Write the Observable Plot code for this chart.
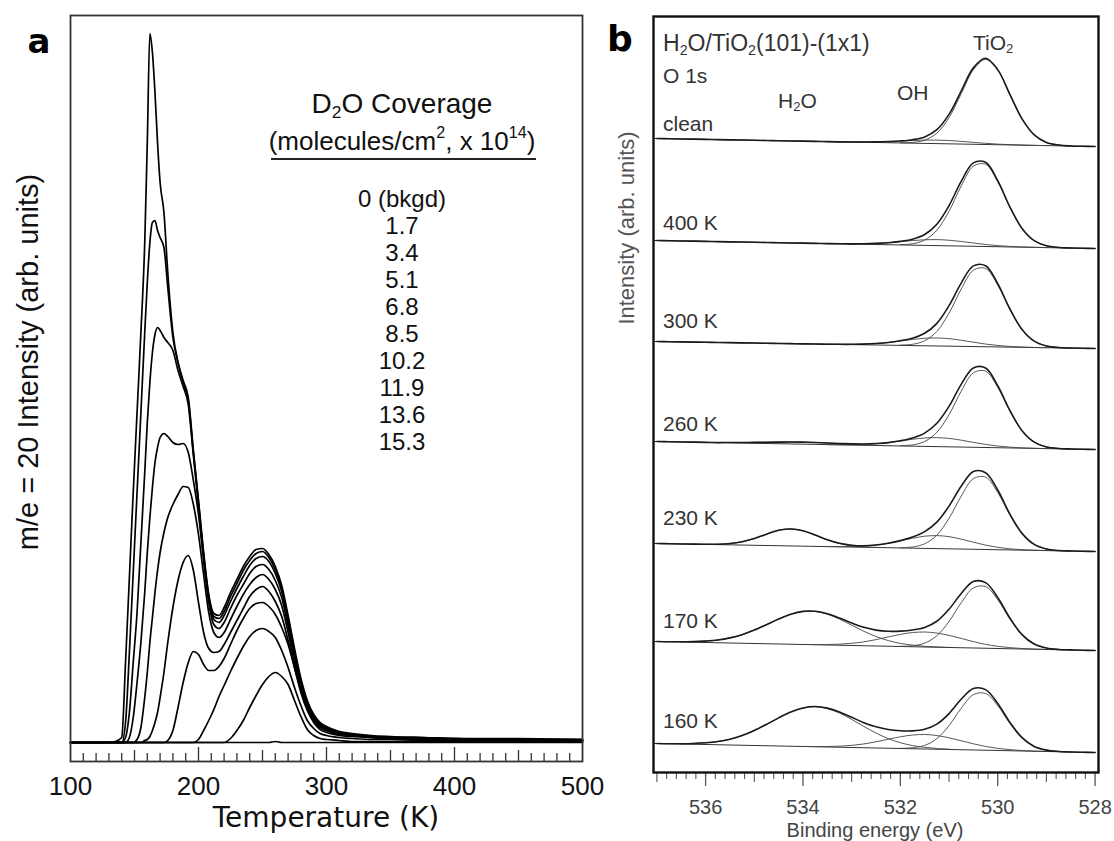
<!DOCTYPE html>
<html><head><meta charset="utf-8">
<script src="https://cdn.jsdelivr.net/npm/d3@7"></script>
<script src="https://cdn.jsdelivr.net/npm/@observablehq/plot@0.6"></script>
<style>
body{margin:0;background:#fff;}
#wrap{position:relative;width:1114px;height:841px;overflow:hidden;background:#fff;font-family:"Liberation Sans",Arial,sans-serif;}
.t{position:absolute;white-space:nowrap;line-height:1;}
.c{transform:translate(-50%,-50%);}
.l{transform:translate(0,-50%);}
.r90{transform:translate(-50%,-50%) rotate(-90deg);}
sub,sup{font-size:62%;line-height:0;}
sub{vertical-align:-0.3em;}
sup{vertical-align:0.75em;}
</style></head><body><div id="wrap"></div>
<script>
// ---------------- Panel a : TPD data (m/e = 20) ----------------
const temps = [100,130,135,140,143,146,149,152,155,158,160,162,164,166,168,170,173,176,180,184,188,192,196,200,204,208,212,216,220,225,230,235,240,245,250,255,260,265,270,275,280,285,290,295,300,310,320,335,350,375,400,450,500];
const coverageLabels = ["0 (bkgd)","1.7","3.4","5.1","6.8","8.5","10.2","11.9","13.6","15.3"];
const tpd_00 = [0,0,0,0,0,0,0,0,0,0, 0,0,0,0,0,0,0,0,0,0, 0,0,0,0,0,0,0,0,0,0, 0,0,0,0,0,0,1,0,0,0, 0,0,0,0,0,0,0,0,0,0, 0,0,0];
const tpd_17 = [0,0,0,0,0,0,0,0,0,0, 0,0,0,0,0,0,0,0,0,0, 0,0,0,0,0,0,0,0,0,4, 12,22,35,47,58,66,70,66,58,42, 26,13,7,4,3,2,1,1,1,1, 1,1,1];
const tpd_34 = [0,0,0,0,0,0,0,0,0,0, 0,0,0,0,0,0,0,0,0,0, 0,0,0,3,12,22,33,46,57,71, 84,96,106,112,114,111,105,92,75,55, 37,22,14,9,7,5,4,3,3,2, 2,2,1];
const tpd_51 = [0,0,0,0,0,0,0,0,0,0, 0,0,0,0,0,0,0,2,12,35, 60,80,91,88,78,72,72,76,84,98, 112,124,134,139,140,136,128,115,98,75, 52,33,20,13,10,7,6,5,4,3, 3,2,2];
const tpd_68 = [0,0,0,0,0,0,0,0,0,2, 3,6,12,20,30,45,70,100,135,162, 180,187,172,140,110,94,90,91,98,110, 122,134,146,153,156,151,141,126,102,75, 50,32,21,15,12,8,7,5,4,4, 3,3,2];
const tpd_85 = [0,0,0,0,0,0,0,3,15,45, 70,100,125,150,172,190,210,225,238,248, 256,255,238,208,168,130,110,105,110,123, 136,148,158,165,168,163,153,137,110,80, 54,35,23,16,12,9,7,5,4,4, 3,3,2];
const tpd_102 = [0,0,0,0,0,5,25,60,100,150, 190,225,255,280,295,305,309,306,300,298, 299,290,262,228,182,140,118,114,120,134, 147,158,169,176,178,173,162,145,116,85, 57,37,25,17,13,9,7,6,5,4, 3,3,2];
const tpd_119 = [0,0,0,0,5,30,80,130,200,270, 320,360,390,408,415,412,405,400,392,372, 356,338,287,237,185,144,123,120,127,141, 154,166,177,184,186,181,169,151,121,89, 60,39,26,18,14,10,8,6,5,4, 4,3,3];
const tpd_136 = [0,0,0,0,20,90,170,250,330,410, 460,500,520,522,512,505,495,455,405,380, 360,342,290,240,188,146,126,124,131,146, 159,172,182,189,191,185,173,154,124,91, 62,40,27,19,15,10,8,6,5,5, 4,3,3];
const tpd_153 = [0,0,1,5,80,165,250,330,410,500, 600,709,690,650,600,560,530,470,410,380, 362,345,292,242,190,148,129,127,135,150, 163,176,186,193,194,188,176,157,127,94, 64,42,28,20,16,11,9,7,6,5, 4,4,3];
const tpdSeries = [tpd_00,tpd_17,tpd_34,tpd_51,tpd_68,tpd_85,tpd_102,tpd_119,tpd_136,tpd_153];
const tempMajor = [100,200,300,400,500];
const tempMid = [150,250,350,450];

// ---------------- Panel b : XPS O 1s data ----------------
const spectra = ["clean","400 K","300 K","260 K","230 K","170 K","160 K"];
const baseAt537 = [634,532,431,331,229,131,29];   // stacked intensity of background at 537 eV
const baseAt528 = [626,524,424,323,221,122,20];   // stacked intensity of background at 528 eV
const tio2From = 532.0;                            // arrays sampled every 0.25 eV downwards
const tio2 = [
 [0.1,0.8,3.2,10.5,26.2,50.3,74.5,85,74.5,50.3,26.2,10.5,3.2,0.8,0.1],
 [0.3,1.4,5.3,15.4,34.6,60.1,80.1,82.2,65.0,39.5,18.5,6.6,1.8,0.4,0.1],
 [0.3,1.3,5.0,14.6,33.0,57.2,76.3,78.3,61.9,37.6,17.6,6.3,1.8,0.4,0.1],
 [0.3,1.3,4.9,14.3,32.1,55.8,74.4,76.4,60.4,36.7,17.2,6.2,1.7,0.4,0.1],
 [0.2,1.2,4.6,13.5,30.5,52.9,70.6,72.4,57.3,34.8,16.3,5.8,1.6,0.3,0.1],
 [0.2,1.0,3.9,11.5,26.0,45.0,60.1,61.7,48.8,29.6,13.9,5.0,1.4,0.3,0.1],
 [0.2,1.0,3.6,10.6,23.9,41.5,55.3,56.8,44.9,27.3,12.8,4.6,1.3,0.3,0.0]
];
const ohFrom = [533.5,533.5,533.5,533.5,533.5,534.0,534.0];
const oh = [
 [0,0,0.1,0.3,0.6,1.2,1.9,2.7,3.3,3.5,3.3,2.7,1.9,1.2,0.6,0.3,0.1,0,0],
 [0,0.1,0.2,0.5,1.1,2.0,3.3,4.6,5.6,6,5.6,4.6,3.3,2.0,1.1,0.5,0.2,0.1,0],
 [0,0.1,0.3,0.7,1.5,2.7,4.4,6.1,7.5,8,7.5,6.1,4.4,2.7,1.5,0.7,0.3,0.1,0],
 [0,0.1,0.3,0.8,1.7,3.1,4.9,6.9,8.4,9,8.4,6.9,4.9,3.1,1.7,0.8,0.3,0.1,0],
 [0.1,0.2,0.5,1.1,2.4,4.4,7.1,9.9,12.2,13,12.2,9.9,7.1,4.4,2.4,1.1,0.5,0.2,0.1],
 [0.1,0.2,0.5,1.1,2.2,3.9,6.4,9.3,12.1,14.2,15,14.2,12.1,9.3,6.4,3.9,2.2,1.1,0.5,0.2,0.1],
 [0.1,0.2,0.5,1.1,2.1,3.8,6.2,9.0,11.7,13.7,14.5,13.7,11.7,9.0,6.2,3.8,2.1,1.1,0.5,0.2,0.1]
];
const h2oFrom = [null,null,null,535.5,536.0,536.5,536.5];
const h2o = [
 [],[],[],
 [0.3,0.5,0.9,1.2,1.6,1.9,2,1.9,1.6,1.2,0.9,0.5,0.3],
 [0.1,0.4,1.3,3.3,6.7,11.3,15.4,17,15.4,11.3,6.7,3.3,1.3,0.4,0.1],
 [0.3,0.6,1.4,2.7,5.1,8.6,13.4,19.1,25.0,30.0,33.0,33.3,30.8,26.1,20.3,14.5,9.5,5.7,3.1,1.6,0.7,0.3,0.1],
 [0.3,0.8,1.7,3.2,5.8,9.7,15.0,21.3,28.1,34.2,38.4,40,38.4,34.2,28.1,21.3,15.0,9.7,5.8,3.2,1.7,0.8,0.3]
];
const energyMajor = [536,534,532,530,528];
const energyMid = [537,535,533,531,529];

// ---------------- layout (text placement only) ----------------
const legendTop = 199, legendStep = 27;
const specLabelY = [123,222,320,423,517,620,720];

const wrap = document.getElementById("wrap");

// ===== Panel a =====
const tpdRows = [];
tpdSeries.forEach((arr, k) => arr.forEach((v, i) => tpdRows.push({T: temps[i], v, cov: coverageLabels[k]})));
const tempMinor = d3.range(110, 500, 10).filter(t => t % 50 !== 0);

const plotA = Plot.plot({
  width: 600, height: 841,
  marginLeft: 70, marginRight: 18, marginTop: 15, marginBottom: 80,
  x: {domain: [100, 500]},
  y: {domain: [-19, 727], axis: null},
  style: {fontFamily: "Liberation Sans, Arial, sans-serif", fontSize: "26px", background: "transparent", color: "#111", overflow: "visible"},
  marks: [
    Plot.ruleX(tempMinor, {x: d => d, y1: -19, y2: -11, stroke: "#333", strokeWidth: 1.3}),
    Plot.ruleX(tempMid, {x: d => d, y1: -19, y2: -8, stroke: "#333", strokeWidth: 1.3}),
    Plot.ruleX(tempMajor.slice(1, -1), {x: d => d, y1: -19, y2: -5, stroke: "#333", strokeWidth: 1.3}),
    Plot.line(tpdRows, {x: "T", y: "v", z: "cov", stroke: "#000", strokeWidth: 1.7, curve: "monotone-x"}),
    Plot.frame({stroke: "#333", strokeWidth: 1.8}),
    Plot.axisX({ticks: tempMajor, tickSize: 0, tickPadding: 15, label: null, fontSize: 26, tickFormat: d => String(d)})
  ]
});
plotA.style.position = "absolute"; plotA.style.left = "0px"; plotA.style.top = "0px";
wrap.appendChild(plotA);

// ===== Panel b =====
const E0 = 537, E1 = 528;
const baseAt = (s, E) => baseAt537[s] + (baseAt528[s] - baseAt537[s]) * (E0 - E) / (E0 - E1);
const compVal = (arr, from, E) => {
  if (!arr || from == null) return 0;
  const j = Math.round((from - E) * 4);
  return (j >= 0 && j < arr.length) ? arr[j] : 0;
};
const gridE = d3.range(0, 37).map(i => E0 - i / 4);
const envRows = [], compRows = [], baseRows = [];
spectra.forEach((name, s) => {
  baseRows.push({E: E0, v: baseAt537[s], s: name}, {E: E1, v: baseAt528[s], s: name});
  gridE.forEach(E => envRows.push({E, s: name,
    v: baseAt(s, E) + compVal(tio2[s], tio2From, E) + compVal(oh[s], ohFrom[s], E) + compVal(h2o[s], h2oFrom[s], E)}));
  [["TiO2", tio2[s], tio2From], ["OH", oh[s], ohFrom[s]], ["H2O", h2o[s], h2oFrom[s]]].forEach(([c, arr, from]) => {
    if (!arr || !arr.length) return;
    arr.forEach((v, j) => { const E = from - j / 4; compRows.push({E, v: baseAt(s, E) + v, key: name + c}); });
  });
});
const leftTicks = spectra.map((name, s) => ({L: baseAt537[s]}));
const energyMinor = d3.range(0, 46).map(i => 528 + i / 5).filter(e => Math.abs(e - Math.round(e)) > 1e-6);

const plotB = Plot.plot({
  width: 514, height: 841,
  marginLeft: 53, marginRight: 16, marginTop: 16, marginBottom: 69,
  x: {domain: [537.07, 527.93]},
  y: {domain: [0, 756], axis: null},
  style: {fontFamily: "Liberation Sans, Arial, sans-serif", fontSize: "20px", background: "transparent", color: "#444", overflow: "visible"},
  marks: [
    Plot.ruleX(energyMinor, {x: d => d, y1: -1, y2: -7, stroke: "#555", strokeWidth: 1.1}),
    Plot.ruleX(energyMid, {x: d => d, y1: -1, y2: -10, stroke: "#555", strokeWidth: 1.1}),
    Plot.ruleX(energyMajor, {x: d => d, y1: -1, y2: -14, stroke: "#555", strokeWidth: 1.3}),
    Plot.ruleY(leftTicks, {y: "L", x1: 537.07, x2: 536.93, stroke: "#222", strokeWidth: 1}),
    Plot.line(baseRows, {x: "E", y: "v", z: "s", stroke: "#333", strokeWidth: 1}),
    Plot.line(compRows, {x: "E", y: "v", z: "key", stroke: "#444", strokeWidth: 0.9, curve: "catmull-rom"}),
    Plot.line(envRows, {x: "E", y: "v", z: "s", stroke: "#1a1a1a", strokeWidth: 1.6, curve: "catmull-rom"}),
    Plot.frame({stroke: "#111", strokeWidth: 2.4}),
    Plot.axisX({ticks: energyMajor, tickSize: 0, tickPadding: 27, label: null, fontSize: 20, fill: "#444", tickFormat: d => String(d)})
  ]
});
plotB.style.position = "absolute"; plotB.style.left = "600px"; plotB.style.top = "0px";
wrap.appendChild(plotB);

// ===== Text overlays =====
function addText(html, x, y, cls, style) {
  const d = document.createElement("div");
  d.className = "t " + cls;
  d.style.left = x + "px"; d.style.top = y + "px";
  Object.assign(d.style, style || {});
  d.innerHTML = html;
  wrap.appendChild(d);
  return d;
}
// panel a
addText("a", 39, 41, "c", {font: "700 34px 'DejaVu Sans'", color: "#000"});
addText("m/e = 20 Intensity (arb. units)", 28, 362, "r90", {fontSize: "29px", color: "#111"});
addText("Temperature (K)", 326, 817, "c", {font: "28px 'DejaVu Sans'", color: "#111"});
addText("D<sub>2</sub>O Coverage", 402, 104, "c", {fontSize: "28px", color: "#111"});
addText("(molecules/cm<sup>2</sup>, x 10<sup>14</sup>)", 402, 141, "c", {fontSize: "26px", color: "#111"});
const ul = document.createElement("div");
Object.assign(ul.style, {position: "absolute", left: "271px", top: "158px", width: "265px", height: "2px", background: "#222"});
wrap.appendChild(ul);
coverageLabels.forEach((lab, i) => addText(lab, 402, legendTop + i * legendStep, "c", {fontSize: "24px", color: "#111"}));

// panel b
addText("b", 620, 38, "c", {font: "700 36px 'DejaVu Sans'", color: "#000"});
addText("H<sub>2</sub>O/TiO<sub>2</sub>(101)-(1x1)", 663, 43, "l", {fontSize: "23px", color: "#333"});
addText("O 1s", 663, 75, "l", {fontSize: "21px", color: "#333"});
addText("H<sub>2</sub>O", 778, 100, "l", {fontSize: "21px", color: "#333"});
addText("OH", 897, 92, "l", {fontSize: "21px", color: "#333"});
addText("TiO<sub>2</sub>", 973, 42, "l", {fontSize: "21px", color: "#333"});
spectra.forEach((lab, i) => addText(lab, 663, specLabelY[i], "l", {fontSize: "21px", color: "#333"}));
addText("Intensity (arb. units)", 627, 228, "r90", {fontSize: "22px", color: "#555"});
addText("Binding energy (eV)", 875, 830, "c", {fontSize: "20px", color: "#444"});
</script></body></html>
